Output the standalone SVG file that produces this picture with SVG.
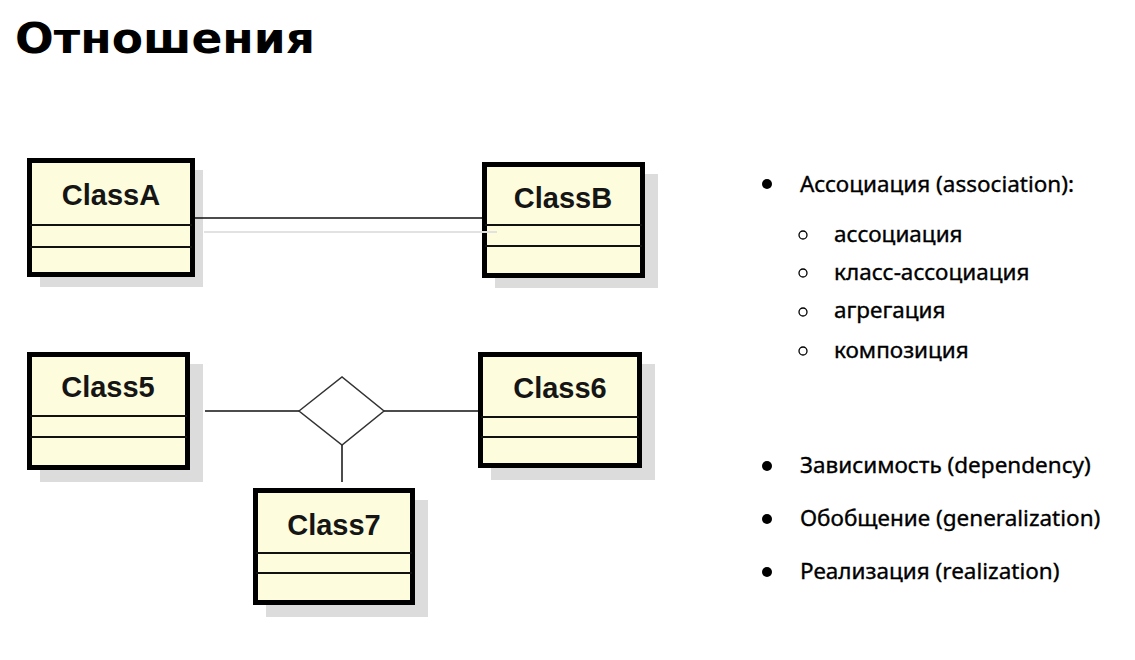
<svg xmlns="http://www.w3.org/2000/svg" width="1135" height="660" viewBox="0 0 1135 660">
<style>
.shadow{fill:#dcdcdc}
.box{fill:#fdfcdc;stroke:#000;stroke-width:5}
.sep{stroke:#111;stroke-width:2}
.cname{font-family:"Liberation Sans",Arial,sans-serif;font-weight:bold;font-size:29px;fill:#151515;text-anchor:middle}
.conn{stroke:#111;stroke-width:1.5;fill:none}
.txt{font-family:"Noto Sans","DejaVu Sans",sans-serif;font-size:22.5px;fill:#000;stroke:#000;stroke-width:0.35}
.title{font-family:"DejaVu Sans","Noto Sans",sans-serif;font-weight:bold;font-size:43px;fill:#000}
</style>
<rect width="1135" height="660" fill="#fff"/>
<text class="title" x="15" y="53" textLength="300" lengthAdjust="spacingAndGlyphs">Отношения</text>

<g id="ClassA">
<rect class="shadow" x="40" y="170" width="163" height="117"/>
<rect class="box" x="29.5" y="160.5" width="163" height="114"/>
<line class="sep" x1="30" y1="225" x2="192" y2="225"/>
<line class="sep" x1="30" y1="247" x2="192" y2="247"/>
<text class="cname" x="111" y="205">ClassA</text>
</g>

<g id="ClassB">
<rect class="shadow" x="495" y="174" width="163" height="114"/>
<rect class="box" x="484.5" y="164.5" width="158" height="111"/>
<line class="sep" x1="485" y1="225" x2="642" y2="225"/>
<line class="sep" x1="485" y1="246" x2="642" y2="246"/>
<text class="cname" x="563" y="208">ClassB</text>
</g>

<g id="Class5">
<rect class="shadow" x="40" y="364" width="163" height="118"/>
<rect class="box" x="29.5" y="354.5" width="158" height="113"/>
<line class="sep" x1="30" y1="416" x2="187" y2="416"/>
<line class="sep" x1="30" y1="437" x2="187" y2="437"/>
<text class="cname" x="108" y="397">Class5</text>
</g>

<g id="Class6">
<rect class="shadow" x="491" y="364" width="164" height="116"/>
<rect class="box" x="480.5" y="354.5" width="159" height="111"/>
<line class="sep" x1="481" y1="417" x2="639" y2="417"/>
<line class="sep" x1="481" y1="437" x2="639" y2="437"/>
<text class="cname" x="560" y="398">Class6</text>
</g>

<g id="Class7">
<rect class="shadow" x="266" y="500" width="162" height="117"/>
<rect class="box" x="255.5" y="490.5" width="157" height="112"/>
<line class="sep" x1="256" y1="553" x2="412" y2="553"/>
<line class="sep" x1="256" y1="573" x2="412" y2="573"/>
<text class="cname" x="334" y="535">Class7</text>
</g>

<g id="connectors">
<line x1="204" y1="232" x2="497" y2="232" stroke="#e2e2e2" stroke-width="2"/>
<line class="conn" x1="195" y1="218" x2="482" y2="218"/>
<line class="conn" x1="205" y1="411" x2="299" y2="411"/>
<line class="conn" x1="384" y1="411" x2="478" y2="411"/>
<line class="conn" x1="342" y1="445" x2="342" y2="482"/>
<polygon points="299,411 342,377 384,411 342,445" fill="#fff" stroke="#333" stroke-width="1.5"/>
</g>

<g id="list">
<circle cx="767" cy="184" r="5" fill="#000"/>
<text class="txt" x="800" y="192">Ассоциация (association):</text>
<circle cx="803" cy="235" r="4" fill="none" stroke="#000" stroke-width="1.3"/>
<text class="txt" x="834" y="242">ассоциация</text>
<circle cx="803" cy="273" r="4" fill="none" stroke="#000" stroke-width="1.3"/>
<text class="txt" x="834" y="280">класс-ассоциация</text>
<circle cx="803" cy="312" r="4" fill="none" stroke="#000" stroke-width="1.3"/>
<text class="txt" x="834" y="318">агрегация</text>
<circle cx="803" cy="351" r="4" fill="none" stroke="#000" stroke-width="1.3"/>
<text class="txt" x="834" y="358">композиция</text>
<circle cx="767" cy="466" r="5" fill="#000"/>
<text class="txt" x="800" y="473">Зависимость (dependency)</text>
<circle cx="767" cy="519" r="5" fill="#000"/>
<text class="txt" x="800" y="526">Обобщение (generalization)</text>
<circle cx="767" cy="572" r="5" fill="#000"/>
<text class="txt" x="800" y="579">Реализация (realization)</text>
</g>
</svg>
